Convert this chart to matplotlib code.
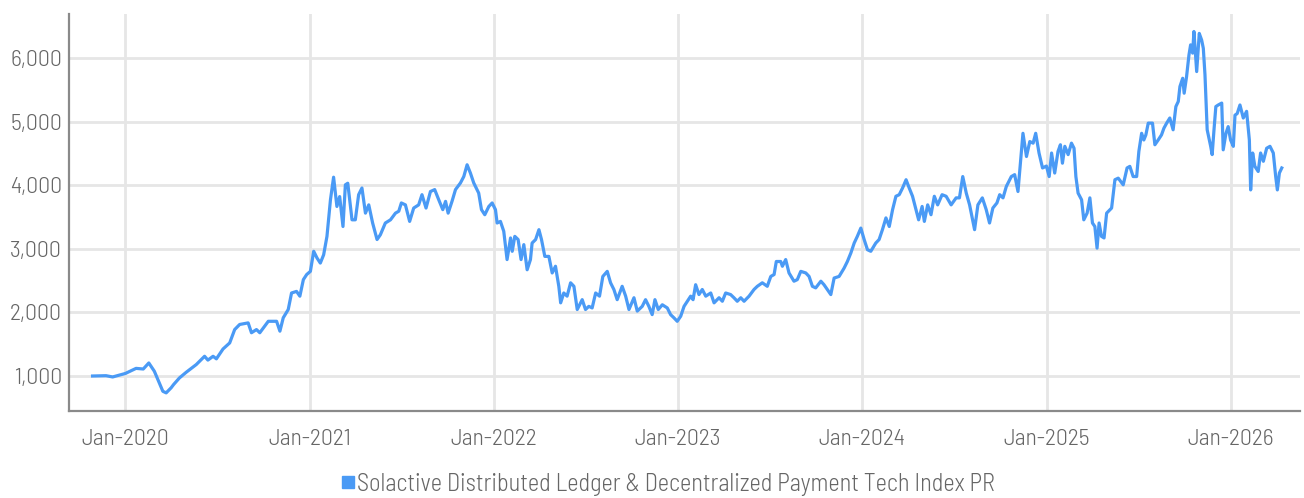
import matplotlib
matplotlib.use("Agg")
import matplotlib.pyplot as plt
import matplotlib.dates as mdates
from matplotlib.lines import Line2D
from matplotlib.ticker import FuncFormatter
import numpy as np
import pandas as pd

# decimal years and index levels
years = [
    2019.824, 2019.897, 2019.933, 2020.002, 2020.060, 2020.099, 2020.129, 2020.159, 2020.178, 2020.205,
    2020.223, 2020.250, 2020.263, 2020.295, 2020.332, 2020.386, 2020.431, 2020.449, 2020.477, 2020.495,
    2020.531, 2020.567, 2020.594, 2020.621, 2020.667, 2020.685, 2020.712, 2020.730, 2020.776, 2020.821,
    2020.839, 2020.857, 2020.884, 2020.902, 2020.929, 2020.947, 2020.966, 2020.984,
    2021.004, 2021.022, 2021.040, 2021.058, 2021.076, 2021.094, 2021.113, 2021.130, 2021.148, 2021.163,
    2021.181, 2021.194, 2021.207, 2021.230, 2021.248, 2021.266, 2021.284, 2021.303, 2021.321, 2021.342,
    2021.366, 2021.384, 2021.411, 2021.439, 2021.466, 2021.484, 2021.498, 2021.520, 2021.543, 2021.565,
    2021.592, 2021.610, 2021.632, 2021.656, 2021.679, 2021.701, 2021.723, 2021.738, 2021.752, 2021.773,
    2021.792, 2021.819, 2021.837, 2021.855, 2021.873, 2021.891, 2021.918, 2021.933, 2021.951, 2021.973,
    2021.991,
    2022.009, 2022.018, 2022.036, 2022.054, 2022.072, 2022.091, 2022.100, 2022.114, 2022.132, 2022.148,
    2022.163, 2022.181, 2022.199, 2022.208, 2022.227, 2022.245, 2022.259, 2022.277, 2022.299, 2022.317,
    2022.335, 2022.353, 2022.363, 2022.380, 2022.398, 2022.417, 2022.435, 2022.453, 2022.480, 2022.498,
    2022.516, 2022.534, 2022.553, 2022.574, 2022.592, 2022.616, 2022.634, 2022.652, 2022.670, 2022.697,
    2022.716, 2022.734, 2022.761, 2022.779, 2022.806, 2022.824, 2022.842, 2022.860, 2022.875, 2022.893,
    2022.915, 2022.942, 2022.960, 2022.978, 2022.996,
    2023.015, 2023.033, 2023.051, 2023.069, 2023.082, 2023.096, 2023.114, 2023.132, 2023.151, 2023.178,
    2023.196, 2023.223, 2023.241, 2023.259, 2023.286, 2023.304, 2023.322, 2023.341, 2023.359, 2023.386,
    2023.413, 2023.431, 2023.458, 2023.485, 2023.504, 2023.522, 2023.534, 2023.558, 2023.567, 2023.585,
    2023.603, 2023.630, 2023.648, 2023.667, 2023.694, 2023.712, 2023.730, 2023.748, 2023.776, 2023.793,
    2023.811, 2023.830, 2023.848, 2023.875, 2023.902, 2023.920, 2023.939, 2023.957, 2023.974, 2023.993,
    2024.011, 2024.029, 2024.047, 2024.074, 2024.092, 2024.110, 2024.129, 2024.147, 2024.165, 2024.183,
    2024.201, 2024.219, 2024.238, 2024.255, 2024.273, 2024.292, 2024.306, 2024.325, 2024.337, 2024.355,
    2024.373, 2024.391, 2024.409, 2024.433, 2024.455, 2024.482, 2024.509, 2024.527, 2024.545, 2024.564,
    2024.582, 2024.609, 2024.627, 2024.651, 2024.672, 2024.690, 2024.708, 2024.730, 2024.745, 2024.763,
    2024.781, 2024.808, 2024.826, 2024.844, 2024.857, 2024.871, 2024.890, 2024.908, 2024.926, 2024.940,
    2024.958, 2024.977, 2024.998,
    2025.013, 2025.026, 2025.043, 2025.061, 2025.074, 2025.085, 2025.098, 2025.116, 2025.134, 2025.148,
    2025.158, 2025.170, 2025.189, 2025.201, 2025.219, 2025.234, 2025.248, 2025.261, 2025.273, 2025.284,
    2025.297, 2025.311, 2025.325, 2025.352, 2025.370, 2025.388, 2025.415, 2025.436, 2025.451, 2025.469,
    2025.488, 2025.500, 2025.515, 2025.527, 2025.538, 2025.551, 2025.574, 2025.587, 2025.605, 2025.623,
    2025.636, 2025.651, 2025.668, 2025.686, 2025.701, 2025.714, 2025.723, 2025.738, 2025.746, 2025.759,
    2025.772, 2025.781, 2025.792, 2025.799, 2025.814, 2025.828, 2025.841, 2025.850, 2025.859, 2025.871,
    2025.890, 2025.898, 2025.908, 2025.918, 2025.931, 2025.950, 2025.958, 2025.973, 2025.985, 2025.998,
    2026.013, 2026.022, 2026.034, 2026.049, 2026.067, 2026.085, 2026.100, 2026.107, 2026.118, 2026.130,
    2026.148, 2026.161, 2026.176, 2026.194, 2026.212, 2026.230, 2026.243, 2026.252, 2026.263, 2026.276,
]

values = [
    1000, 1005, 985, 1040, 1120, 1110, 1205, 1075, 945, 760,
    735, 815, 865, 970, 1060, 1180, 1310, 1250, 1310, 1270,
    1425, 1520, 1730, 1810, 1835, 1680, 1730, 1680, 1860, 1860,
    1705, 1915, 2045, 2305, 2330, 2255, 2515, 2595,
    2645, 2960, 2855, 2775, 2905, 3195, 3770, 4125, 3665, 3820,
    3350, 4005, 4030, 3455, 3455, 3850, 3955, 3560, 3690, 3405,
    3145, 3220, 3405, 3455, 3560, 3590, 3720, 3690, 3430, 3640,
    3690, 3850, 3640, 3900, 3930, 3770, 3615, 3745, 3560, 3745,
    3930, 4035, 4135, 4320, 4190, 4035, 3875, 3615, 3535, 3665,
    3720,
    3615, 3405, 3430, 3275, 2830, 3170, 2960, 3195, 3145, 2830,
    3065, 2670, 2830, 3090, 3145, 3300, 3145, 2880, 2880, 2620,
    2725, 2410, 2150, 2305, 2255, 2465, 2410, 2045, 2200, 2045,
    2095, 2070, 2305, 2255, 2565, 2645, 2465, 2360, 2200, 2410,
    2255, 2045, 2230, 2020, 2095, 2200, 2095, 1965, 2200, 2045,
    2120, 2070, 1965, 1915, 1860,
    1940, 2095, 2175, 2255, 2200, 2435, 2280, 2360, 2255, 2305,
    2150, 2230, 2175, 2305, 2280, 2230, 2175, 2230, 2175, 2255,
    2360, 2410, 2465, 2410, 2565, 2595, 2800, 2800, 2725, 2830,
    2620, 2490, 2515, 2645, 2620, 2565, 2410, 2385, 2490, 2435,
    2360, 2280, 2540, 2565, 2695, 2800, 2935, 3090, 3195, 3325,
    3145, 2985, 2960, 3090, 3145, 3300, 3485, 3350, 3615, 3825,
    3850, 3955, 4085, 3955, 3825, 3615, 3455, 3665, 3430, 3690,
    3535, 3825, 3690, 3850, 3825, 3690, 3800, 3800, 4135, 3875,
    3690, 3300, 3690, 3800, 3615, 3405, 3640, 3720, 3850, 3800,
    3980, 4135, 4165, 3900, 4345, 4815, 4450, 4685, 4660, 4815,
    4505, 4270, 4300,
    4135, 4505, 4190, 4530, 4635, 4345, 4610, 4480, 4660, 4580,
    4135, 3875, 3770, 3455, 3560, 3800, 3405, 3350, 3010, 3405,
    3195, 3170, 3560, 3640, 4085, 4110, 4005, 4270, 4295, 4135,
    4135, 4530, 4815, 4710, 4790, 4975, 4975, 4635, 4710, 4790,
    4895, 4975, 5055, 4870, 5235, 5315, 5550, 5680, 5445, 5705,
    6045, 6205, 6075, 6415, 5785, 6385, 6280, 6150, 5735, 4870,
    4610, 4480, 4870, 5235, 5260, 5290, 4555, 4815, 4920, 4710,
    4610, 5100, 5125, 5260, 5055, 5160, 4710, 3925, 4505, 4295,
    4215, 4505, 4375, 4580, 4610, 4505, 4135, 3925, 4190, 4270,
]

series_name = "Solactive Distributed Ledger & Decentralized Payment Tech Index PR"
y_ticks = [1000, 2000, 3000, 4000, 5000, 6000]
x_tick_years = [2020, 2021, 2022, 2023, 2024, 2025, 2026]


def decimal_year_to_date(y):
    year = int(np.floor(y))
    start = pd.Timestamp(year=year, month=1, day=1)
    end = pd.Timestamp(year=year + 1, month=1, day=1)
    return start + (end - start) * (y - year)


dates = [decimal_year_to_date(y) for y in years]

plt.rcParams['font.family'] = ['Barlow Semi Condensed', 'DejaVu Sans']
plt.rcParams['font.weight'] = 300

LINE = '#4a9af5'
GRID = '#e6e6e6'
TEXT = '#666666'
AXIS = '#8a8a8a'

fig = plt.figure(figsize=(13.04, 4.98), dpi=100)
ax = fig.add_axes([69 / 1304, 87 / 498, 1231 / 1304, 397 / 498])

ax.plot(dates, values, color=LINE, linewidth=2.3, zorder=3)

ax.set_xlim(decimal_year_to_date(2019.696), decimal_year_to_date(2026.375))
ax.set_ylim(450, 6690)

ax.set_yticks(y_ticks)
ax.yaxis.set_major_formatter(FuncFormatter(lambda v, p: f'{int(v):,}'))
ax.set_xticks([pd.Timestamp(year=y, month=1, day=1) for y in x_tick_years])
ax.xaxis.set_major_formatter(mdates.DateFormatter('%b-%Y'))

ax.grid(True, color=GRID, linewidth=2.0, zorder=0)
ax.set_axisbelow(True)

for s in ['top', 'right']:
    ax.spines[s].set_visible(False)
for s in ['left', 'bottom']:
    ax.spines[s].set_color(AXIS)
    ax.spines[s].set_linewidth(1.6)

ax.tick_params(axis='both', length=0, labelsize=17, colors=TEXT)
ax.tick_params(axis='x', pad=13)
ax.tick_params(axis='y', pad=5)

handle = Line2D([], [], color=LINE, marker='s', linestyle='none', markersize=8)
fig.legend([handle], [series_name], loc='center', bbox_to_anchor=(667 / 1304, 14 / 498),
           frameon=False, fontsize=17.5, labelcolor=TEXT, handletextpad=0.05,
           handlelength=0.7)

fig.savefig('out.png', dpi=100)
